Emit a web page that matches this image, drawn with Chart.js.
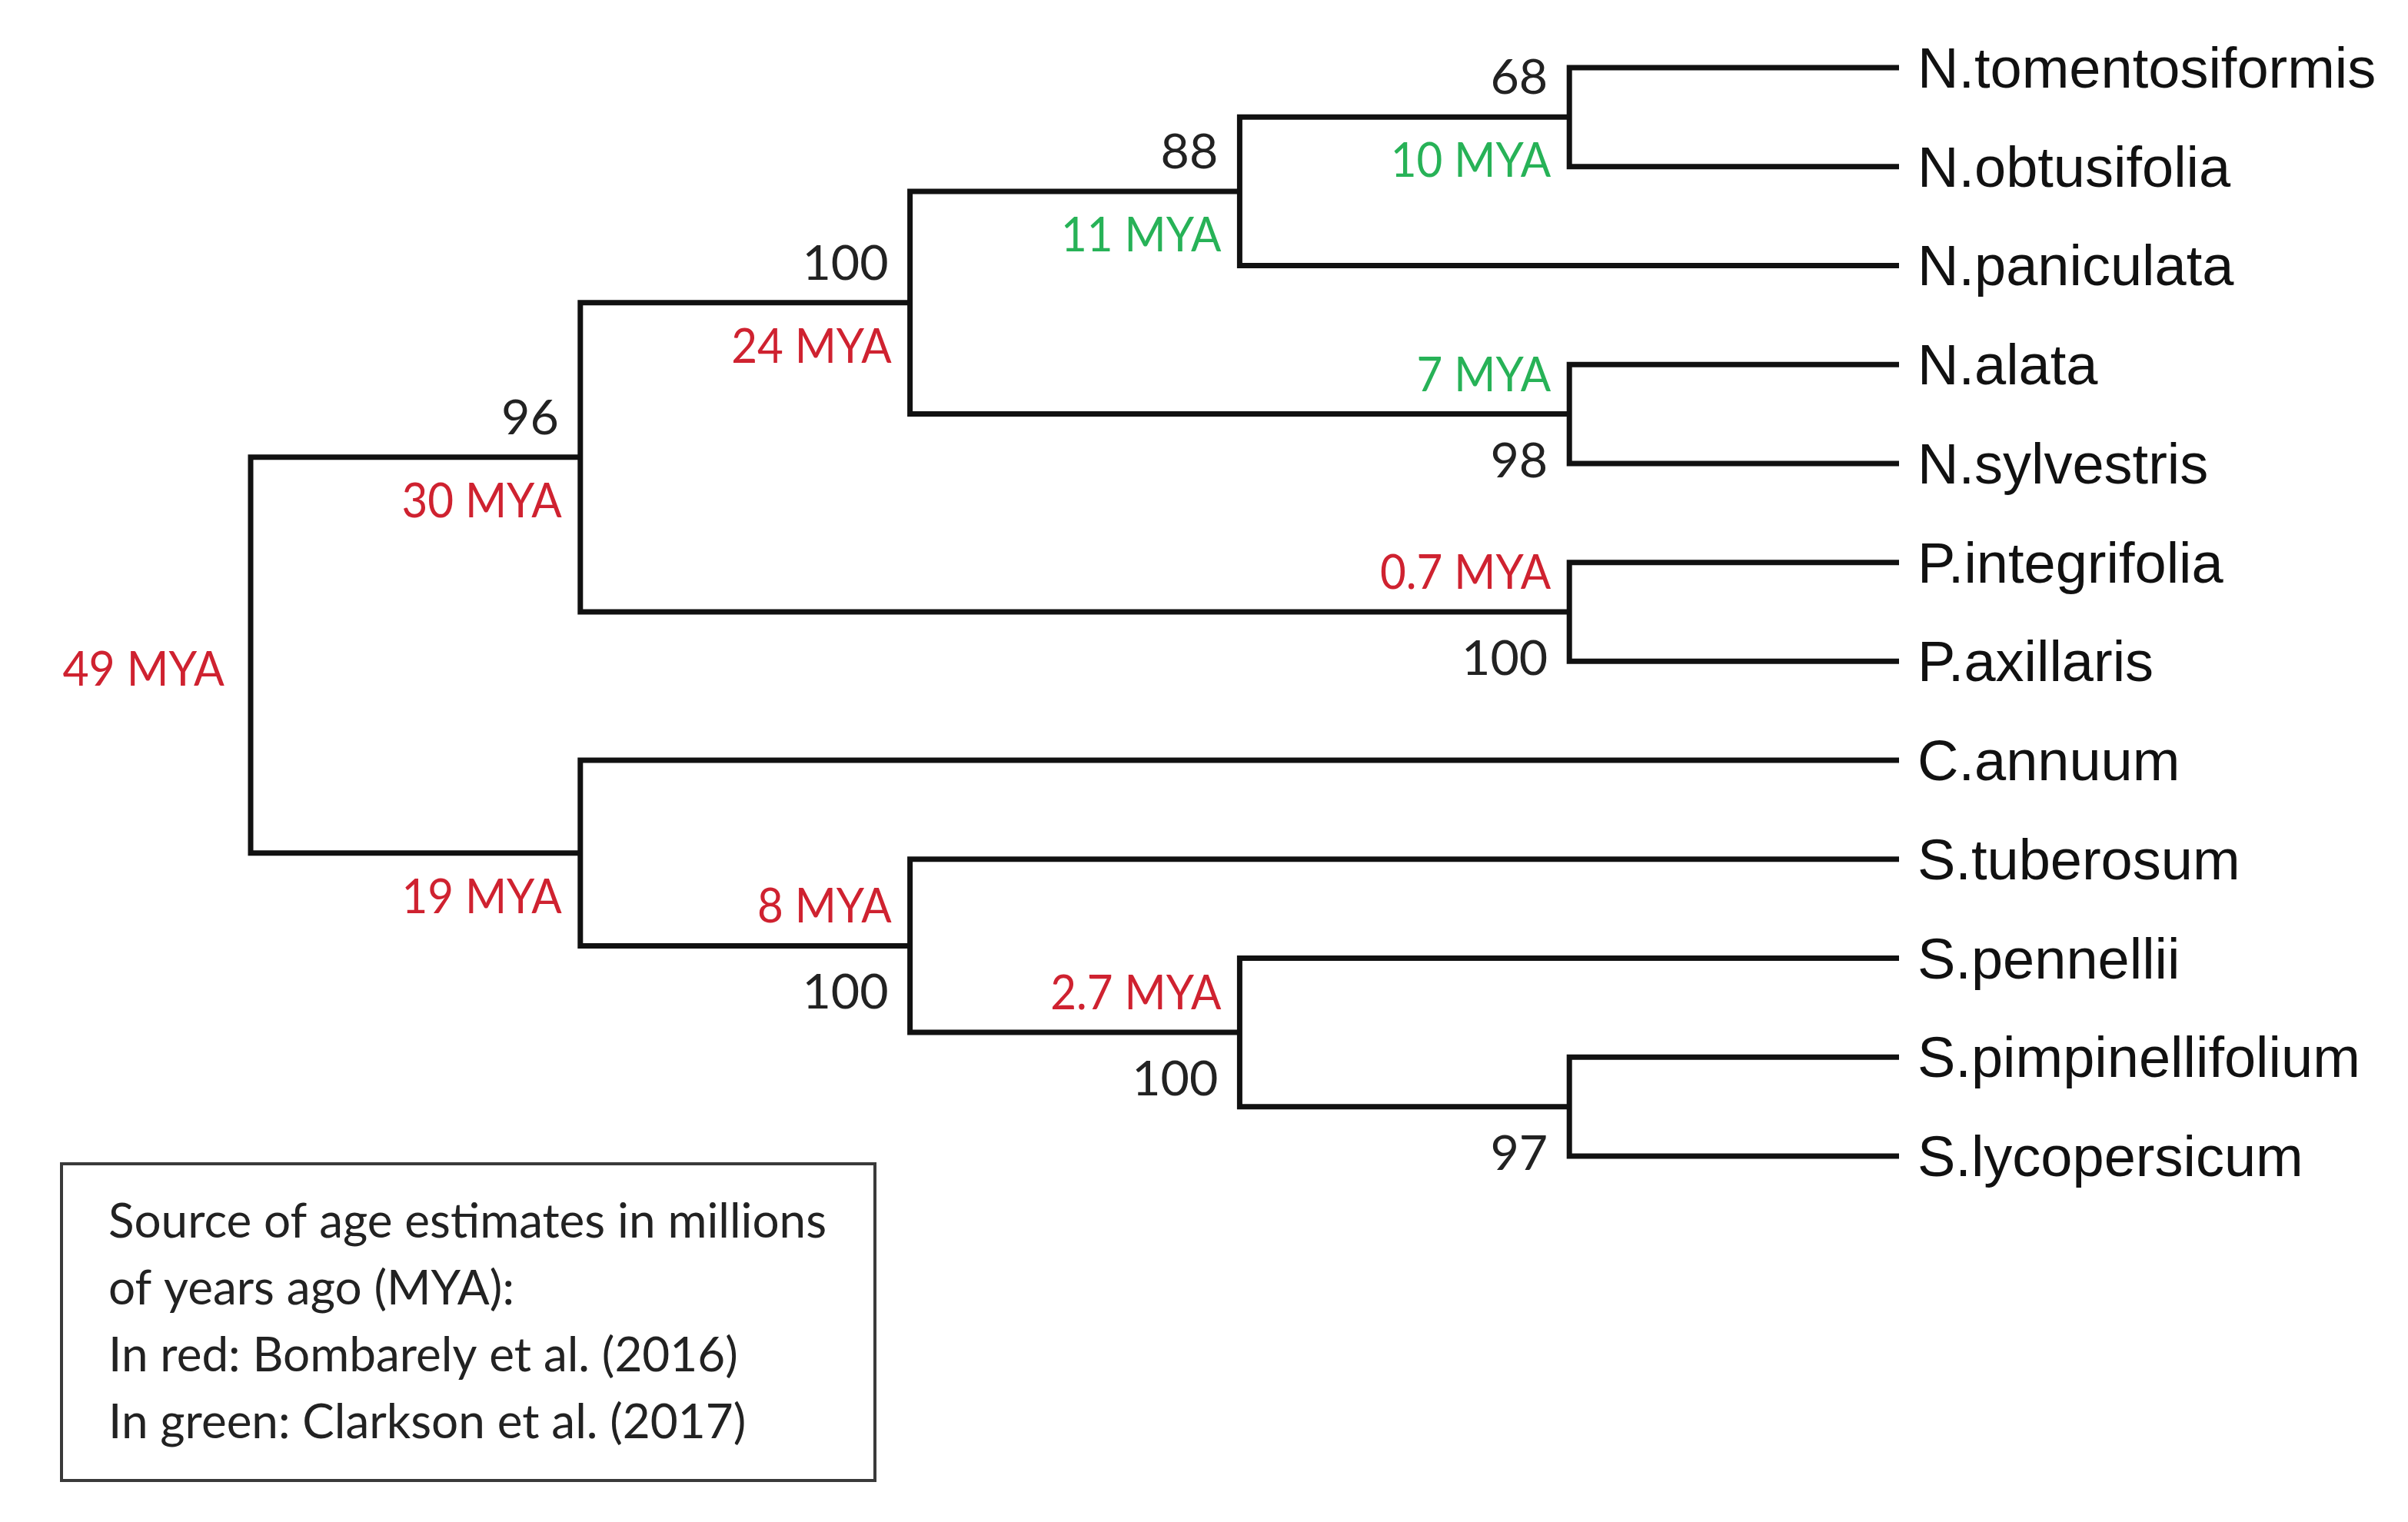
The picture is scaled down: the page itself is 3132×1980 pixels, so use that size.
<!DOCTYPE html>
<html lang="en">
<head>
    <meta charset="UTF-8">
    <title>Solanaceae phylogeny</title>
    <script src="https://cdn.jsdelivr.net/npm/chart.js"></script>
    <style>
        html, body { margin: 0; padding: 0; background: #ffffff; }
        .wrap { width: 3132px; height: 1980px; position: relative; }
    </style>
</head>
<body>
<div class="wrap">
    <canvas id="tree"></canvas>
</div>

<script>
    // leaves, top to bottom
    const leaves = ['N.tomentosiformis', 'N.obtusifolia', 'N.paniculata', 'N.alata', 'N.sylvestris',
        'P.integrifolia', 'P.axillaris', 'C.annuum', 'S.tuberosum', 'S.pennellii',
        'S.pimpinellifolium', 'S.lycopersicum'];
    const leafDepth = 5;

    // internal nodes
    const nodes = ['root', 'n30', 'n24', 'n11', 'n10', 'n7', 'n07', 'n19', 'n8', 'n27', 'n97'];
    const nodeDepth = [0, 1, 2, 3, 4, 4, 4, 1, 2, 3, 4];
    const nodeKids = [
        ['n30', 'n19'],
        ['n24', 'n07'],
        ['n11', 'n7'],
        ['n10', 'N.paniculata'],
        ['N.tomentosiformis', 'N.obtusifolia'],
        ['N.alata', 'N.sylvestris'],
        ['P.integrifolia', 'P.axillaris'],
        ['C.annuum', 'n8'],
        ['S.tuberosum', 'n27'],
        ['S.pennellii', 'n97'],
        ['S.pimpinellifolium', 'S.lycopersicum']
    ];
    const support = [null, 96, 100, 88, 68, 98, 100, null, 100, 100, 97];
    const ages = ['49 MYA', '30 MYA', '24 MYA', '11 MYA', '10 MYA', '7 MYA', '0.7 MYA', '19 MYA', '8 MYA', '2.7 MYA', null];
    const ageSource = ['Bombarely', 'Bombarely', 'Bombarely', 'Clarkson', 'Clarkson', 'Clarkson', 'Bombarely',
        'Bombarely', 'Bombarely', 'Bombarely', null];
    const agePlace = ['left', 'below', 'below', 'below', 'below', 'above', 'above', 'below', 'above', 'above', null];

    const boxLines = ['Source of age estimates in millions', 'of years ago (MYA):',
        'In red: Bombarely et al. (2016)', 'In green: Clarkson et al. (2017)'];

    const sourceColor = { Bombarely: '#cf2230', Clarkson: '#27b257' };

    // position of every leaf / node in data units
    function depthOf(id) {
        const i = nodes.indexOf(id);
        return i >= 0 ? nodeDepth[i] : leafDepth;
    }
    function rowOf(id) {
        const i = nodes.indexOf(id);
        if (i < 0) return leaves.indexOf(id);
        const kids = nodeKids[i];
        return (rowOf(kids[0]) + rowOf(kids[1])) / 2;
    }

    const datasets = nodes.map((id, i) => {
        const [a, b] = nodeKids[i];
        const d = nodeDepth[i];
        return {
            data: [
                { x: depthOf(a), y: rowOf(a) },
                { x: d, y: rowOf(a) },
                { x: d, y: rowOf(b) },
                { x: depthOf(b), y: rowOf(b) }
            ],
            showLine: true,
            borderColor: '#111111',
            borderWidth: 7,
            borderJoinStyle: 'miter',
            borderCapStyle: 'butt',
            pointRadius: 0,
            tension: 0,
            clip: false
        };
    });

    const calibriLike = '62px Lato, "Open Sans", sans-serif';
    const arialLike = '74px "Liberation Sans", Arial, sans-serif';

    // text squeezed or widened a little, to get closer to the original's face
    function fillScaled(ctx, text, x, y, sx) {
        ctx.save();
        ctx.translate(x, y);
        ctx.scale(sx, 1);
        ctx.fillText(text, 0, 0);
        ctx.restore();
    }

    const treeLabels = {
        id: 'treeLabels',
        afterDatasetsDraw(chart) {
            const ctx = chart.ctx;
            const xs = chart.scales.x, ys = chart.scales.y;
            ctx.save();

            // leaf names
            ctx.font = arialLike;
            ctx.fillStyle = '#111111';
            ctx.textAlign = 'left';
            ctx.textBaseline = 'alphabetic';
            leaves.forEach((name, i) => {
                ctx.fillText(name, xs.getPixelForValue(leafDepth) + 24, ys.getPixelForValue(i) + 26);
            });

            // support values and ages
            ctx.font = calibriLike;
            ctx.textAlign = 'right';
            nodes.forEach((id, i) => {
                const px = xs.getPixelForValue(nodeDepth[i]);
                const py = ys.getPixelForValue(rowOf(id));
                const place = agePlace[i];
                if (ages[i]) {
                    ctx.fillStyle = sourceColor[ageSource[i]];
                    if (place === 'left') {
                        fillScaled(ctx, ages[i], px - 34, py + 40, 0.95);
                    } else {
                        const dy = place === 'above' ? -52 : 56;
                        fillScaled(ctx, ages[i], px - 24, py + dy + 22, 0.94);
                    }
                }
                if (support[i] !== null) {
                    ctx.fillStyle = '#222222';
                    const dy = place === 'below' ? -52 : 60;
                    fillScaled(ctx, String(support[i]), px - 28, py + dy + 22, 1.04);
                }
            });

            // source box
            ctx.strokeStyle = '#3a3a3a';
            ctx.lineWidth = 4;
            ctx.strokeRect(80, 1514, 1058, 412);
            ctx.fillStyle = '#222222';
            ctx.textAlign = 'left';
            boxLines.forEach((t, i) => {
                ctx.fillText(t, 141, 1610 + i * 87);
            });

            ctx.restore();
        }
    };

    new Chart(document.getElementById('tree'), {
        type: 'scatter',
        data: { datasets: datasets },
        options: {
            responsive: true,
            maintainAspectRatio: false,
            animation: false,
            layout: { padding: { left: 326, right: 662, top: 88, bottom: 476 } },
            scales: {
                x: { type: 'linear', min: 0, max: leafDepth, display: false },
                y: { type: 'linear', min: 0, max: leaves.length - 1, reverse: true, display: false }
            },
            plugins: {
                legend: { display: false },
                tooltip: { enabled: false }
            }
        },
        plugins: [treeLabels]
    });
</script>
</body>
</html>
